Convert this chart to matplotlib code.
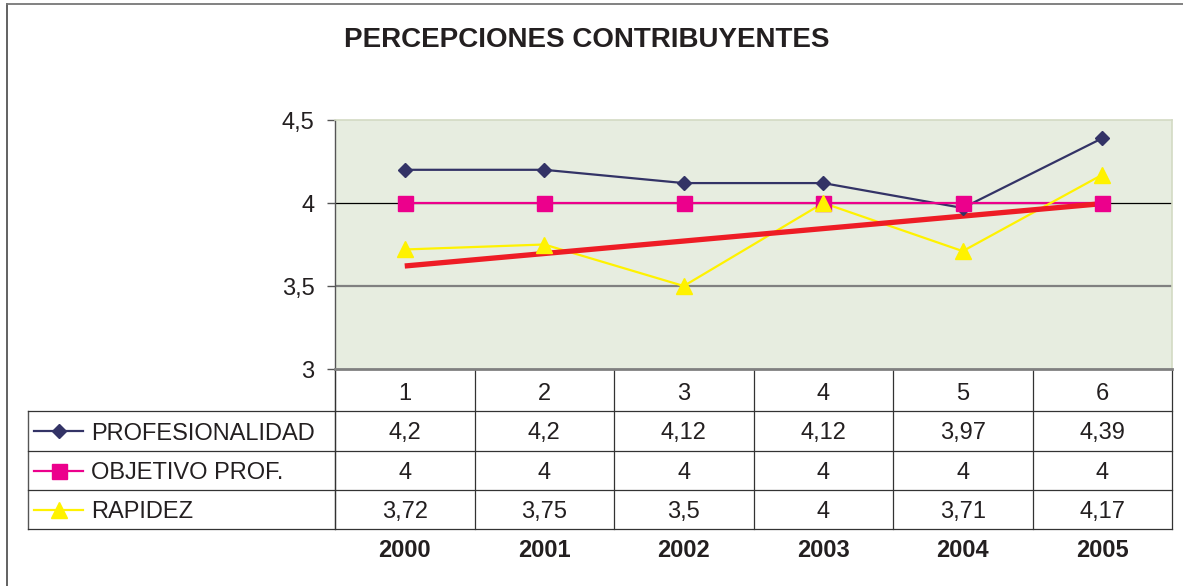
import numpy as np
import matplotlib
matplotlib.use('Agg')
import matplotlib.pyplot as plt
from matplotlib.transforms import blended_transform_factory

plt.rcParams['font.family'] = ['Liberation Sans', 'DejaVu Sans']

# ---------------- data ----------------
categories = [1, 2, 3, 4, 5, 6]
years = ['2000', '2001', '2002', '2003', '2004', '2005']
profesionalidad = [4.2, 4.2, 4.12, 4.12, 3.97, 4.39]
objetivo_prof = [4, 4, 4, 4, 4, 4]
rapidez = [3.72, 3.75, 3.5, 4, 3.71, 4.17]
series_names = ['PROFESIONALIDAD', 'OBJETIVO PROF.', 'RAPIDEZ']
yticks = [3, 3.5, 4, 4.5]
title = 'PERCEPCIONES CONTRIBUYENTES'

series_values = [profesionalidad, objetivo_prof, rapidez]
colors = ['#333366', '#EC008C', '#FFF200']
markers = ['D', 's', '^']
msizes = [7.6, 10.8, 12]
trend_color = '#EE1C25'
FS = 17


def fmt(v):
    return ('%g' % v).replace('.', ',')


W, H = 1183, 586
fig = plt.figure(figsize=(W / 100, H / 100), dpi=100)
L, R, T, B = 335, 1172, 120, 369

# overlay in pixel coordinates (frame + table)
ov = fig.add_axes([0, 0, 1, 1], zorder=0)
ov.set_autoscale_on(False)
ov.set_xlim(0, W)
ov.set_ylim(H, 0)
ov.axis('off')

ax = fig.add_axes([L / W, 1 - B / H, (R - L) / W, (B - T) / H], zorder=1)
ax.set_xlim(0.5, 6.5)
ax.set_ylim(3, 4.5)
ax.set_facecolor('#E7EDE0')
for s in ['top', 'right']:
    ax.spines[s].set_color('#D3DAC4')
    ax.spines[s].set_linewidth(1.2)
ax.spines['left'].set_color('#555555')
ax.spines['left'].set_linewidth(1.0)
ax.spines['bottom'].set_color('#808080')
ax.spines['bottom'].set_linewidth(2.0)
ax.set_xticks([])
ax.set_yticks(yticks)
ax.set_yticklabels([fmt(v) for v in yticks])
ax.tick_params(axis='y', direction='out', length=5.8, width=1.0, color='#555555',
               labelsize=FS, pad=9, labelcolor='#231F20')

ax.axhline(4, color='black', lw=0.9, zorder=1)
ax.axhline(3.5, color='#808080', lw=1.6, zorder=1)

# series lines
for vals, c in zip(series_values, colors):
    ax.plot(categories, vals, color=c, lw=1.6, zorder=2, solid_capstyle='butt')

# linear trend of RAPIDEZ
coef = np.polyfit(categories, rapidez, 1)
tx = np.array([categories[0], categories[-1]])
ax.plot(tx, np.polyval(coef, tx), color=trend_color, lw=3.8, zorder=2.5,
        solid_capstyle='butt')

# markers
for vals, c, m, ms in zip(series_values, colors, markers, msizes):
    ax.plot(categories, vals, linestyle='none', marker=m, markersize=ms,
            markerfacecolor=c, markeredgecolor=c, zorder=3)

# ---------------- frame ----------------
ov.plot([7, 7], [4, H], color='#555555', lw=1.3)
ov.plot([7, W], [4, 4], color='#777777', lw=1.3)

# ---------------- title ----------------
fig.text(587 / W, 1 - 37 / H, title, fontsize=20, fontweight='bold',
         ha='center', va='center_baseline', color='#231F20')

# ---------------- data table ----------------
bt = blended_transform_factory(ax.transData, ov.transData)
tc = '#231F20'
edges_x = [c - 0.5 for c in categories] + [categories[-1] + 0.5]
row_top, row_lines, table_bottom = B, [411, 451, 490, 529], 529
label_left = 28

# vertical lines of data columns
for ex in edges_x:
    ov.plot([ex, ex], [row_top, table_bottom], color='#333333', lw=0.9, transform=bt)
# left spine continuation
ov.plot([L, L], [row_top, table_bottom], color='#333333', lw=0.9)
# label column left border
ov.plot([label_left, label_left], [row_lines[0], table_bottom], color='#555555', lw=1.0)
# horizontal lines
for yl in row_lines:
    ov.plot([label_left, R], [yl, yl], color='#333333', lw=0.9)

# header numbers
hdr_y = (row_top + row_lines[0]) / 2 + 1
for c in categories:
    ov.text(c, hdr_y, str(c), transform=bt, ha='center', va='center_baseline',
            fontsize=FS, color=tc)

# rows
for i, (name, vals, col, m, ms) in enumerate(zip(series_names, series_values,
                                                  colors, markers, msizes)):
    yc = (row_lines[i] + row_lines[i + 1]) / 2
    ov.plot([34, 83], [yc, yc], color=col, lw=1.6)
    ov.plot([59], [yc], linestyle='none', marker=m, markersize=ms,
            markerfacecolor=col, markeredgecolor=col)
    ov.text(91, yc, name, ha='left', va='center_baseline', fontsize=FS, color=tc)
    for c, v in zip(categories, vals):
        ov.text(c, yc, fmt(v), transform=bt, ha='center', va='center_baseline',
                fontsize=FS, color=tc)

# years
for c, yr in zip(categories, years):
    ov.text(c, 548, yr, transform=bt, ha='center', va='center_baseline', fontsize=17,
            fontweight='bold', color=tc)

fig.savefig('out.png', dpi=100, facecolor='white')
